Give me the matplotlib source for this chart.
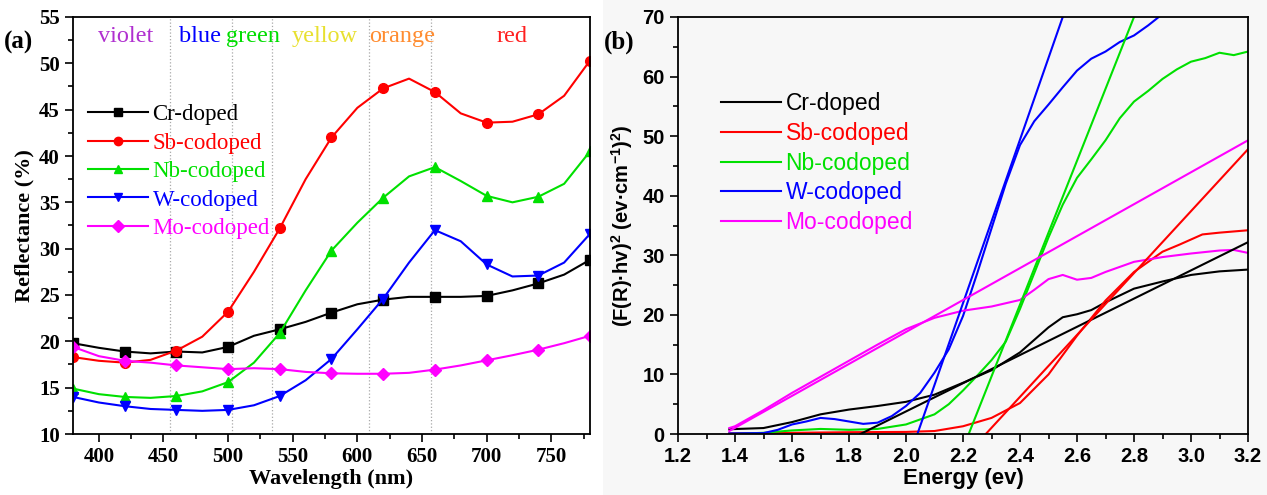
import numpy as np
import matplotlib.pyplot as plt
from matplotlib.patches import Rectangle
from matplotlib.ticker import MultipleLocator

plt.rcParams['mathtext.fontset'] = 'custom'
plt.rcParams['mathtext.rm'] = 'Liberation Sans:bold'
plt.rcParams['mathtext.bf'] = 'Liberation Sans:bold'

# ---- panel (a): reflectance spectra ----
wl = [380, 400, 420, 440, 460, 480, 500, 520, 540, 560, 580,
      600, 620, 640, 660, 680, 700, 720, 740, 760, 780]
r_cr = [19.8, 19.3, 18.9, 18.7, 18.9, 18.8, 19.4, 20.6, 21.3, 22.1, 23.1,
        24.0, 24.5, 24.8, 24.8, 24.8, 24.9, 25.5, 26.25, 27.2, 28.8]
r_sb = [18.3, 17.9, 17.7, 18.0, 19.0, 20.5, 23.2, 27.5, 32.2, 37.5, 42.0,
        45.2, 47.3, 48.35, 46.9, 44.6, 43.6, 43.7, 44.5, 46.5, 50.3]
r_nb = [14.9, 14.3, 14.0, 13.9, 14.1, 14.6, 15.6, 17.7, 20.9, 25.5, 29.8,
        32.8, 35.5, 37.8, 38.8, 37.3, 35.7, 35.0, 35.6, 37.0, 40.5]
r_w = [14.0, 13.4, 13.0, 12.7, 12.6, 12.5, 12.6, 13.1, 14.1, 15.8, 18.1,
       21.3, 24.6, 28.5, 32.0, 30.8, 28.3, 27.0, 27.1, 28.5, 31.6]
r_mo = [19.4, 18.4, 17.9, 17.7, 17.4, 17.2, 17.0, 17.1, 17.0, 16.7, 16.55,
        16.5, 16.5, 16.6, 16.95, 17.4, 17.95, 18.5, 19.1, 19.8, 20.6]

band_edges = [455, 503, 534, 609, 657]
band_names = ['violet', 'blue', 'green', 'yellow', 'orange', 'red']
band_pos = [421, 478, 519, 575, 635, 720]
band_colors = ['#b030d0', '#0000ff', '#00dd00', '#e8e030', '#ff8c30', '#ff2020']

# ---- panel (b): Kubelka-Munk plots ----
e_cr = [1.38, 1.5, 1.6, 1.7, 1.8, 1.9, 2.0, 2.1, 2.2, 2.3, 2.4, 2.5, 2.55,
        2.6, 2.65, 2.7, 2.8, 2.9, 3.0, 3.1, 3.2]
f_cr = [0.8, 1.0, 2.0, 3.3, 4.1, 4.7, 5.4, 6.6, 8.6, 10.7, 13.7, 17.9, 19.6,
        20.1, 20.8, 22.1, 24.4, 25.6, 26.7, 27.3, 27.6]
e_sb = [1.38, 1.6, 1.8, 2.0, 2.1, 2.2, 2.3, 2.4, 2.5, 2.6, 2.7, 2.8, 2.9,
        2.96, 3.04, 3.1, 3.2]
f_sb = [0.1, 0.2, 0.3, 0.35, 0.5, 1.3, 2.7, 5.2, 10.0, 16.5, 22.4, 27.2, 30.6,
        31.8, 33.5, 33.8, 34.2]
e_nb = [1.38, 1.5, 1.6, 1.7, 1.8, 1.9, 2.0, 2.1, 2.15, 2.2, 2.25, 2.3, 2.35,
        2.4, 2.45, 2.5, 2.55, 2.6, 2.65, 2.7, 2.75, 2.8, 2.85, 2.9, 2.95,
        3.0, 3.05, 3.1, 3.15, 3.2]
f_nb = [0.0, 0.2, 0.6, 0.85, 0.7, 0.85, 1.6, 3.3, 5.0, 7.3, 9.8, 12.4, 15.5,
        21.0, 27.0, 33.0, 38.5, 43.0, 46.1, 49.3, 53.0, 55.8, 57.6, 59.6, 61.2,
        62.5, 63.1, 64.0, 63.6, 64.2]
e_w = [1.38, 1.5, 1.55, 1.6, 1.65, 1.7, 1.75, 1.8, 1.85, 1.9, 1.95, 2.0,
       2.05, 2.1, 2.15, 2.2, 2.25, 2.3, 2.35, 2.4, 2.45, 2.5, 2.55, 2.6,
       2.65, 2.7, 2.75, 2.8, 2.85, 2.9]
f_w = [0.1, 0.15, 0.7, 1.6, 2.1, 2.7, 2.5, 2.1, 1.7, 1.9, 3.0, 4.7,
       6.9, 10.3, 14.2, 19.8, 27.0, 34.5, 42.0, 48.5, 52.5, 55.3, 58.2, 61.0,
       63.0, 64.2, 65.8, 66.9, 68.6, 70.5]
e_mo = [1.38, 1.4, 1.5, 1.6, 1.7, 1.8, 1.9, 2.0, 2.1, 2.2, 2.3, 2.4, 2.45,
        2.5, 2.55, 2.6, 2.65, 2.7, 2.8, 2.9, 3.0, 3.1, 3.15, 3.2]
f_mo = [1.0, 1.3, 4.0, 6.9, 9.6, 12.3, 15.0, 17.6, 19.5, 20.7, 21.4, 22.5, 24.2,
        26.0, 26.7, 25.9, 26.2, 27.2, 28.9, 29.7, 30.3, 30.8, 30.9, 30.4]

# linear fits (x-intercept gives band gap)
fit_cr = ([1.84, 3.2], [0, 32.2])
fit_sb = ([2.28, 3.2], [0, 47.8])
fit_nb = ([2.22, 2.8], [0, 70])
fit_w = ([2.04, 2.55], [0, 70])
fit_mo = ([1.38, 3.2], [0.5, 49.3])

labels = ['Cr-doped', 'Sb-codoped', 'Nb-codoped', 'W-codoped', 'Mo-codoped']
colors = ['#000000', '#ff0000', '#00e000', '#0000ff', '#ff00ff']
markers = ['s', 'o', '^', 'v', 'D']

fig = plt.figure(figsize=(12.67, 4.95), dpi=100)
# light grey backdrop behind panel (b)
fig.patches.append(Rectangle((603 / 1267, 0), 1, 1, transform=fig.transFigure,
                             facecolor='#f7f7f7', edgecolor='none', zorder=-1))

ax1 = fig.add_axes([73 / 1267, 61 / 495, 517 / 1267, 417 / 495])
ax2 = fig.add_axes([678 / 1267, 61 / 495, 570 / 1267, 417 / 495])
ax2.set_facecolor('#f7f7f7')

serif = 'Liberation Serif'
sans = 'Liberation Sans'

for x in band_edges:
    ax1.axvline(x, color='#a8a8a8', lw=0.9, ls=':', zorder=0)

for ys, lab, c, m in zip([r_cr, r_sb, r_nb, r_w, r_mo], labels, colors, markers):
    ax1.plot(wl, ys, color=c, lw=1.5, label=lab)
    ax1.plot(wl[::2], ys[::2], ls='none', marker=m, color=c,
             ms=7 if m != 'D' else 6)

# legend handles with line + marker
handles = [ax1.plot([], [], color=c, lw=1.5, marker=m, ms=6)[0]
           for c, m in zip(colors, markers)]
leg = ax1.legend(handles, labels, loc='upper left', bbox_to_anchor=(-0.01, 0.84),
                 frameon=False, prop={'family': serif, 'size': 16.5},
                 handlelength=2.6, handletextpad=0.2, labelspacing=0.32)
for t, c in zip(leg.get_texts(), colors):
    t.set_color(c)

for name, pos, c in zip(band_names, band_pos, band_colors):
    ax1.text(pos, 52.9, name, color=c, ha='center', va='center',
             family=serif, fontsize=17.5)

ax1.set_xlim(380, 780)
ax1.set_ylim(10, 55)
ax1.xaxis.set_major_locator(MultipleLocator(50))
ax1.xaxis.set_minor_locator(MultipleLocator(25))
ax1.yaxis.set_major_locator(MultipleLocator(5))
ax1.yaxis.set_minor_locator(MultipleLocator(2.5))
ax1.tick_params(which='both', top=False, right=False, width=1.2)
ax1.tick_params(which='major', length=6, labelsize=15)
ax1.tick_params(which='minor', length=3.5)
for lbl in ax1.get_xticklabels() + ax1.get_yticklabels():
    lbl.set_family(serif)
    lbl.set_fontweight('bold')
ax1.set_xlabel('Wavelength (nm)', family=serif, fontweight='bold', fontsize=16, labelpad=1)
ax1.set_ylabel('Reflectance (%)', family=serif, fontweight='bold', fontsize=16, labelpad=3)
for s in ax1.spines.values():
    s.set_linewidth(1.3)
fig.text(4 / 1267, 1 - 42 / 495, '(a)', family=serif, fontweight='bold',
         fontsize=18, va='center')

# ---- panel (b) ----
for ex, fy, c in zip([e_cr, e_sb, e_nb, e_w, e_mo], [f_cr, f_sb, f_nb, f_w, f_mo], colors):
    ax2.plot(ex, fy, color=c, lw=1.5)
for (fx, fy), c in zip([fit_cr, fit_sb, fit_nb, fit_w, fit_mo], colors):
    ax2.plot(fx, fy, color=c, lw=1.5)

handles2 = [ax2.plot([], [], color=c, lw=1.5)[0] for c in colors]
leg2 = ax2.legend(handles2, labels, loc='upper left', bbox_to_anchor=(0.04, 0.87),
                  frameon=False, prop={'family': sans, 'size': 16.5},
                  handlelength=2.6, handletextpad=0.2, labelspacing=0.3)
for t, c in zip(leg2.get_texts(), colors):
    t.set_color(c)

ax2.set_xlim(1.2, 3.2)
ax2.set_ylim(0, 70)
ax2.xaxis.set_major_locator(MultipleLocator(0.2))
ax2.xaxis.set_minor_locator(MultipleLocator(0.1))
ax2.yaxis.set_major_locator(MultipleLocator(10))
ax2.yaxis.set_minor_locator(MultipleLocator(5))
ax2.tick_params(which='both', top=False, right=False, width=1.2)
ax2.tick_params(which='major', length=6, labelsize=14.5)
ax2.tick_params(which='minor', length=3.5)
for lbl in ax2.get_xticklabels() + ax2.get_yticklabels():
    lbl.set_family(sans)
    lbl.set_fontweight('bold')
ax2.set_xlabel('Energy (ev)', family=sans, fontweight='bold', fontsize=16, labelpad=1)
ax2.set_ylabel('(F(R)\u00b7hv)$^{2}$ (ev\u00b7cm$^{-1}$)$^{2}$)', family=sans,
               fontweight='bold', fontsize=14.5, labelpad=5)
for s in ax2.spines.values():
    s.set_linewidth(1.3)
fig.text(604 / 1267, 1 - 42 / 495, '(b)', family=serif, fontweight='bold',
         fontsize=18, va='center')

fig.savefig('out.png', dpi=100)
